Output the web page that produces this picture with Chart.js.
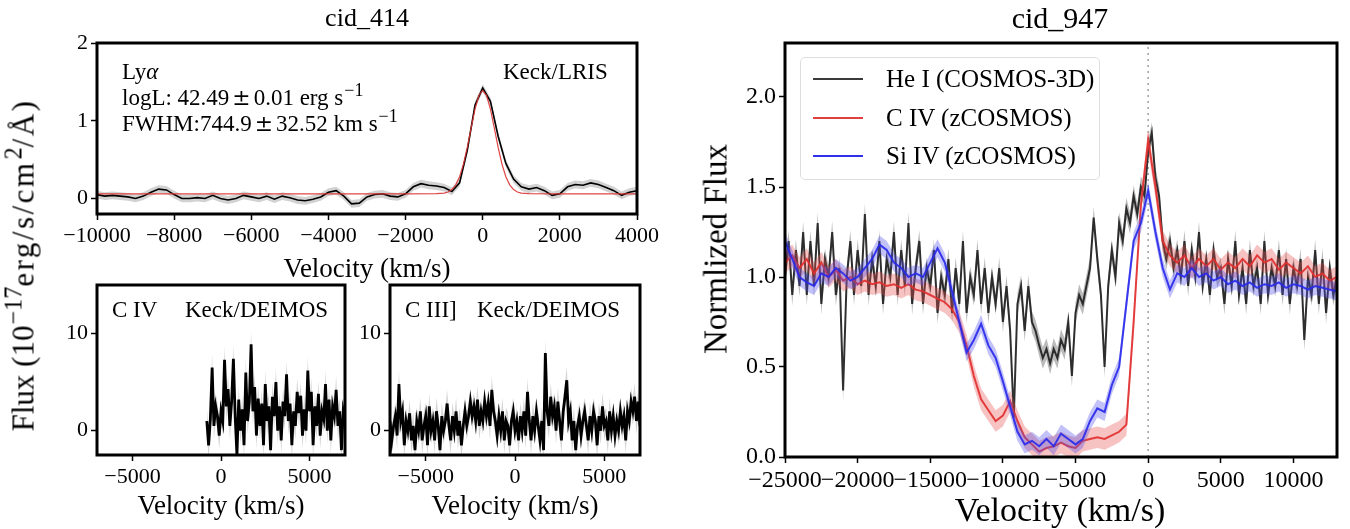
<!DOCTYPE html>
<html><head><meta charset="utf-8">
<script src="https://cdn.jsdelivr.net/npm/chart.js@4.4.1/dist/chart.umd.min.js"></script>
<style>
html,body{margin:0;padding:0;background:#fff;}
#wrap{position:relative;width:1350px;height:529px;overflow:hidden;font-family:'Liberation Serif','Times New Roman',serif;color:#000;}
canvas{position:absolute;left:0;top:0;}
.t{position:absolute;white-space:nowrap;line-height:1;}
.c{transform:translate(-50%,-50%);}
.r{transform:translate(-50%,-50%) rotate(-90deg);}
sup{font-size:78%;vertical-align:0;position:relative;top:-0.5em;margin-left:1px;}
.pm{font-family:'DejaVu Serif',serif;font-size:95%;margin:0 3px;}
.leg{position:absolute;left:800px;top:57px;width:300px;height:123px;border:1px solid #ddd;border-radius:5px;box-sizing:border-box;background:rgba(255,255,255,0.8);}
.ll{position:absolute;left:12px;width:50px;height:0;border-top:2.5px solid;}
.lt{position:absolute;left:85px;font-size:25px;line-height:1;white-space:nowrap;}
.m{letter-spacing:2.5px;}
</style></head>
<body><div id="wrap">
<canvas id="c1" width="1350" height="529"></canvas>
<canvas id="c2" width="1350" height="529"></canvas>
<canvas id="c3" width="1350" height="529"></canvas>
<canvas id="c4" width="1350" height="529"></canvas>

<div class="t c" style="left:367px;top:18px;font-size:26px;">cid_414</div>
<div class="t c" style="left:1060px;top:18px;font-size:30px;">cid_947</div>

<div class="t" style="left:122px;top:60px;font-size:23px;">Ly<i>α</i></div>
<div class="t" style="left:122px;top:86px;font-size:23px;">logL: 42.49<span class="pm">±</span>0.01 erg s<sup>−1</sup></div>
<div class="t" style="left:122px;top:112px;font-size:23px;">FWHM:744.9<span class="pm">±</span>32.52 km s<sup>−1</sup></div>
<div class="t" style="left:503px;top:60px;font-size:23px;">Keck/LRIS</div>
<div class="t c" style="left:367px;top:268px;font-size:27px;">Velocity (km/s)</div>

<div class="t" style="left:112px;top:298px;font-size:23px;">C IV</div>
<div class="t" style="left:185px;top:298px;font-size:23px;">Keck/DEIMOS</div>
<div class="t" style="left:405px;top:298px;font-size:23px;">C III]</div>
<div class="t" style="left:477px;top:298px;font-size:23px;">Keck/DEIMOS</div>
<div class="t c" style="left:221px;top:505px;font-size:27px;">Velocity (km/s)</div>
<div class="t c" style="left:515px;top:505px;font-size:27px;">Velocity (km/s)</div>

<div class="t r" style="left:23px;top:265px;font-size:31px;">Flux (10<sup>−17</sup><span class="m">erg/s/cm</span><sup>2</sup><span class="m">/Å)</span></div>
<div class="t r" style="left:716px;top:249px;font-size:33px;">Normlized Flux</div>
<div class="t c" style="left:1060px;top:510px;font-size:34px;">Velocity (km/s)</div>

<div class="leg">
  <div class="ll" style="top:20px;border-color:#3a3a3a;"></div><div class="lt" style="top:8px;">He I (COSMOS-3D)</div>
  <div class="ll" style="top:59px;border-color:#e04040;"></div><div class="lt" style="top:47px;">C IV (zCOSMOS)</div>
  <div class="ll" style="top:97px;border-color:#3030e8;"></div><div class="lt" style="top:85px;">Si IV (zCOSMOS)</div>
</div>
</div>
<script>
// ---------- Panel 1: Ly-alpha (Keck/LRIS) ----------
const lyaV = [-10000,-9800,-9600,-9400,-9200,-9000,-8800,-8600,-8400,-8200,-8000,-7800,-7600,-7400,-7200,-7000,-6800,-6600,-6400,-6200,-6000,-5800,-5600,-5400,-5200,-5000,-4800,-4600,-4400,-4200,-4000,-3800,-3600,-3400,-3200,-3000,-2800,-2600,-2400,-2200,-2000,-1800,-1600,-1400,-1200,-1000,-800,-600,-400,-200,0,200,400,600,800,1000,1200,1400,1600,1800,2000,2200,2400,2600,2800,3000,3200,3400,3600,3800,4000];
const lyaFlux = [0.05,0.03,0.04,0.03,0.02,0.00,0.03,0.08,0.12,0.11,0.05,0.00,0.00,0.01,0.00,0.04,0.00,-0.02,0.00,0.04,0.02,0.00,0.03,-0.01,0.03,0.01,-0.02,-0.03,-0.01,0.02,0.08,0.10,0.03,-0.07,-0.06,0.02,0.05,0.06,0.03,0.02,0.06,0.15,0.19,0.17,0.16,0.14,0.09,0.20,0.62,1.20,1.42,1.25,0.80,0.45,0.25,0.15,0.12,0.14,0.10,0.04,0.06,0.15,0.18,0.17,0.20,0.18,0.14,0.10,0.04,0.08,0.10];
const lyaErr = 0.05;
const lyaFitV = [-10000,-2000,-1200,-1000,-900,-800,-700,-600,-500,-400,-300,-200,-100,0,100,200,300,400,500,600,700,800,900,1000,1200,2000,4000];
const lyaFitF = [0.06,0.06,0.061,0.069,0.083,0.114,0.175,0.28,0.44,0.657,0.908,1.149,1.325,1.39,1.325,1.149,0.908,0.657,0.44,0.28,0.175,0.114,0.083,0.069,0.061,0.06,0.06];
const lyaXTicks = [-10000,-8000,-6000,-4000,-2000,0,2000,4000];
const lyaYTicks = [0,1,2];

// ---------- Panel 2: C IV (Keck/DEIMOS) ----------
const civV = [-800,-700,-600,-500,-400,-300,-200,-100,0,100,
200,300,400,500,600,700,800,900,1000,1100,
1200,1300,1400,1500,1600,1700,1800,1900,2000,2100,
2200,2300,2400,2500,2600,2700,2800,2900,3000,3100,
3200,3300,3400,3500,3600,3700,3800,3900,4000,4100,
4200,4300,4400,4500,4600,4700,4800,4900,5000,5100,
5200,5300,5400,5500,5600,5700,5800,5900,6000,6100,
6200,6300,6400,6500,6600,6700,6800,6900,7000];
const civFlux = [1.0,-1.5,1.2,6.5,0.5,2.5,1.5,-0.5,2.0,1.0,
7.3,2.5,4.3,0.5,3.0,7.4,1.5,-2.5,3.2,0.0,
2.2,-1.5,6.0,1.0,3.0,8.9,2.0,4.5,-0.5,3.3,
0.5,2.8,-1.5,4.8,1.0,2.5,-2.0,3.5,1.5,5.0,
0.0,2.5,-1.0,3.0,1.5,5.8,1.0,2.8,-1.5,2.0,
0.5,4.0,1.8,3.6,-0.5,2.2,0.0,6.2,2.0,4.0,
-1.5,2.5,0.5,3.8,-0.5,2.0,1.2,4.8,0.0,3.2,
-1.0,2.5,1.5,4.2,0.5,2.0,-2.0,2.0,1.0];
const civErr = 1.4;

// ---------- Panel 3: C III] (Keck/DEIMOS) ----------
const ciiiV = [-7000,-6900,-6800,-6700,-6600,-6500,-6400,-6300,-6200,-6100,
-6000,-5900,-5800,-5700,-5600,-5500,-5400,-5300,-5200,-5100,
-5000,-4900,-4800,-4700,-4600,-4500,-4400,-4300,-4200,-4100,
-4000,-3900,-3800,-3700,-3600,-3500,-3400,-3300,-3200,-3100,
-3000,-2900,-2800,-2700,-2600,-2500,-2400,-2300,-2200,-2100,
-2000,-1900,-1800,-1700,-1600,-1500,-1400,-1300,-1200,-1100,
-1000,-900,-800,-700,-600,-500,-400,-300,-200,-100,
0,100,200,300,400,500,600,700,800,900,
1000,1100,1200,1300,1400,1500,1600,1700,1800,1900,
2000,2100,2200,2300,2400,2500,2600,2700,2800,2900,
3000,3100,3200,3300,3400,3500,3600,3700,3800,3900,
4000,4100,4200,4300,4400,4500,4600,4700,4800,4900,
5000,5100,5200,5300,5400,5500,5600,5700,5800,5900,
6000,6100,6200,6300,6400,6500,6600,6700,6800,6900,
7000];
const ciiiFlux = [1.0,-1.0,0.5,1.5,-0.5,4.8,1.0,2.0,-1.5,1.0,
0.0,1.8,-1.0,0.5,-2.0,1.0,0.0,2.0,-1.0,0.5,
1.5,-1.5,2.5,0.0,1.0,-1.0,2.0,0.5,-2.0,1.5,
0.0,1.0,2.8,0.5,-1.0,1.5,0.0,2.0,-0.5,1.0,
-1.5,0.5,2.0,0.5,1.5,3.0,1.5,2.5,1.0,3.2,
0.5,2.0,1.0,3.0,1.5,2.8,0.5,4.2,2.0,1.0,
-0.5,1.5,0.0,2.0,-1.0,1.0,0.5,-1.5,1.0,2.0,
0.0,1.0,-1.0,1.5,0.0,2.0,-0.5,4.0,1.0,-1.0,
1.5,0.0,2.0,0.5,-1.0,1.0,-2.0,8.0,2.0,0.5,
3.5,1.5,2.5,0.0,3.0,1.0,-1.0,2.0,3.5,5.2,
1.0,2.0,-1.0,1.0,-2.0,0.5,1.5,-0.5,1.0,2.0,
0.5,-1.0,1.5,0.0,2.0,1.0,-1.5,1.5,0.0,2.5,
0.5,1.0,-1.0,2.0,0.0,1.5,-0.5,1.0,0.0,2.0,
0.5,1.5,-1.0,2.0,1.0,3.0,2.0,3.5,1.0,3.0,
0.5];
const ciiiErr = 1.4;
const deimosXTicks = [-5000,0,5000];
const deimosYTicks = [0,10];

// ---------- Panel 4: cid_947 normalized profiles ----------
const heiV = [-25000,-24750,-24500,-24250,-24000,-23750,-23500,-23250,-23000,-22750,
-22500,-22250,-22000,-21750,-21500,-21250,-21000,-20750,-20500,-20250,
-20000,-19750,-19500,-19250,-19000,-18750,-18500,-18250,-18000,-17750,
-17500,-17250,-17000,-16750,-16500,-16250,-16000,-15750,-15500,-15250,
-15000,-14750,-14500,-14250,-14000,-13750,-13500,-13250,-13000,-12750,
-12500,-12250,-12000,-11750,-11500,-11250,-11000,-10750,-10500,-10250,
-10000,-9750,-9500,-9250,-9000,-8750,-8500,-8250,-8000,-7750,
-7500,-7250,-7000,-6750,-6500,-6250,-6000,-5750,-5500,-5250,
-5000,-4750,-4500,-4250,-4000,-3750,-3500,-3250,-3000,-2750,
-2500,-2250,-2000,-1750,-1500,-1250,-1000,-750,-500,-250,
0,250,500,750,1000,1250,1500,1750,2000,2250,
2500,2750,3000,3250,3500,3750,4000,4250,4500,4750,
5000,5250,5500,5750,6000,6250,6500,6750,7000,7250,
7500,7750,8000,8250,8500,8750,9000,9250,9500,9750,
10000,10250,10500,10750,11000,11250,11500,11750,12000,12250,
12500,12750,13000];
const heiFlux = [1.0,1.2,0.9,1.15,0.95,1.25,0.9,1.2,0.95,1.3,
0.85,1.1,1.0,1.25,0.9,1.05,0.37,1.0,1.2,0.9,
1.15,0.95,1.35,0.9,1.1,0.95,1.2,0.85,1.1,1.0,
1.25,0.9,1.15,0.95,1.3,0.85,1.05,1.2,0.85,1.05,
0.95,1.15,0.8,1.0,0.9,1.1,0.8,1.05,0.85,1.2,
0.8,1.0,0.9,1.15,0.85,1.05,0.8,1.0,0.85,1.05,
0.75,0.95,0.7,0.22,0.85,0.95,0.7,0.95,0.75,0.7,
0.62,0.55,0.6,0.52,0.6,0.55,0.65,0.6,0.75,0.45,
0.8,0.9,0.85,0.95,1.05,1.33,1.1,0.9,0.5,0.95,
1.15,1.0,1.3,1.2,1.38,1.3,1.45,1.35,1.5,1.45,
1.7,1.8,1.55,1.45,1.2,1.1,1.2,1.05,1.15,1.0,
1.2,0.95,1.15,1.0,1.25,0.95,1.1,0.9,1.15,1.0,
1.05,0.85,1.1,0.95,1.2,0.9,1.05,0.85,1.15,0.95,
1.05,0.85,1.2,0.9,1.05,0.95,1.15,0.9,1.1,0.85,
1.05,0.95,1.1,0.65,1.0,0.9,1.15,0.85,1.1,0.8,
1.05,0.9,1.0];
const heiErr = 0.06;
const zcV = [-25000,-24500,-24000,-23500,-23000,-22500,-22000,-21500,-21000,-20500,
-20000,-19500,-19000,-18500,-18000,-17500,-17000,-16500,-16000,-15500,
-15000,-14500,-14000,-13500,-13000,-12500,-12000,-11500,-11000,-10500,
-10000,-9500,-9000,-8500,-8000,-7500,-7000,-6500,-6000,-5500,
-5000,-4500,-4000,-3500,-3000,-2500,-2000,-1500,-1000,-500,
0,500,1000,1500,2000,2500,3000,3500,4000,4500,
5000,5500,6000,6500,7000,7500,8000,8500,9000,9500,
10000,10500,11000,11500,12000,12500,13000];
const civNorm = [1.08,1.12,1.05,1.1,1.02,1.08,1.0,1.04,0.98,1.0,
0.96,0.98,0.96,0.97,0.95,0.96,0.94,0.96,0.93,0.92,
0.9,0.88,0.86,0.82,0.75,0.62,0.45,0.32,0.26,0.2,
0.23,0.31,0.2,0.11,0.07,0.03,0.05,0.06,0.08,0.06,
0.05,0.09,0.1,0.11,0.1,0.12,0.14,0.18,0.75,1.4,
1.76,1.5,1.2,1.12,1.08,1.12,1.05,1.1,1.06,1.1,
1.04,1.08,1.05,1.1,1.06,1.12,1.08,1.1,1.04,1.08,
1.05,1.02,1.06,1.0,1.02,0.98,1.0];
const civNormErr = 0.06;
const sivNorm = [1.2,1.1,1.0,0.97,0.95,1.02,1.0,1.05,1.02,0.98,
1.0,1.05,1.1,1.18,1.15,1.08,1.05,1.0,1.02,1.0,
1.08,1.16,1.08,0.92,0.75,0.58,0.65,0.74,0.62,0.55,
0.42,0.28,0.14,0.07,0.09,0.06,0.1,0.06,0.13,0.1,
0.07,0.1,0.2,0.27,0.25,0.4,0.5,0.85,1.2,1.3,
1.48,1.25,1.05,0.93,1.02,1.0,1.05,1.0,1.02,0.98,
1.0,0.96,0.98,0.95,0.97,0.94,0.96,0.95,0.97,0.94,
0.96,0.95,0.93,0.95,0.94,0.93,0.92];
const sivNormErr = 0.05;
const rXTicks = [-25000,-20000,-15000,-10000,-5000,0,5000,10000];
const rYTicks = [0.0,0.5,1.0,1.5,2.0];
const zeroLineV = [0,0];
const zeroLineY = [0,2.3];

// ---------- helpers ----------
const SERIF = "'Liberation Serif','Times New Roman',serif";
const pts = (xs, ys, off=0, sign=0) => xs.map((x,i)=>({x, y: ys[i] + sign*off}));
const minus = v => (v < 0 ? '\u2212' + Math.abs(v) : String(v));

const framePlugin = {
  id: 'frame',
  afterDatasetsDraw(chart) {
    const {ctx, chartArea: a} = chart;
    ctx.save();
    ctx.strokeStyle = '#000';
    ctx.lineWidth = 3;
    ctx.strokeRect(a.left, a.top, a.right - a.left, a.bottom - a.top);
    ctx.restore();
  }
};

function band(xs, ys, err, color, order) {
  return [
    {data: pts(xs, ys, err, 1), borderWidth: 0, pointRadius: 0, fill: false, order, borderColor: 'transparent'},
    {data: pts(xs, ys, err, -1), borderWidth: 0, pointRadius: 0, fill: '-1', backgroundColor: color, order, borderColor: 'transparent'}
  ];
}
function line(xs, ys, color, width, order, extra={}) {
  return Object.assign({data: pts(xs, ys), borderColor: color, borderWidth: width, pointRadius: 0, fill: false, tension: 0, order}, extra);
}

function makeChart(id, area, xr, yr, xticks, yticks, fmtX, fmtY, datasets, fontSize) {
  const yW = 70, xH = 40;
  const axisCommon = (ticks, fmt) => ({
    type: 'linear',
    grid: {display: true, drawOnChartArea: false, drawTicks: true, tickLength: 6, tickWidth: 1.5, tickColor: '#000'},
    border: {display: false},
    afterBuildTicks: s => { s.ticks = ticks.map(v => ({value: v})); },
    ticks: {autoSkip: false, maxRotation: 0, minRotation: 0, color: '#000', padding: 3,
            font: {family: SERIF, size: fontSize}, callback: v => fmt(v)}
  });
  const x = Object.assign(axisCommon(xticks, fmtX), {min: xr[0], max: xr[1], position: 'bottom',
    afterFit: s => { s.height = xH; s.paddingLeft = 0; s.paddingRight = 0; }});
  const y = Object.assign(axisCommon(yticks, fmtY), {min: yr[0], max: yr[1], position: 'left',
    afterFit: s => { s.width = yW; s.paddingTop = 0; s.paddingBottom = 0; }});
  return new Chart(document.getElementById(id), {
    type: 'line',
    data: {datasets},
    options: {
      responsive: false, animation: false, events: [],
      layout: {padding: {left: area.l - yW, right: 1350 - area.r, top: area.t, bottom: 529 - area.b - xH}},
      plugins: {legend: {display: false}, tooltip: {enabled: false}},
      scales: {x, y}
    },
    plugins: [framePlugin]
  });
}

// Panel 1
makeChart('c1', {l: 97, r: 637, t: 43, b: 214}, [-10000, 4000], [-0.2, 2.0], lyaXTicks, lyaYTicks, minus, minus, [
  ...band(lyaV, lyaFlux, lyaErr, 'rgba(180,180,180,0.6)', 3),
  line(lyaV, lyaFlux, '#000', 1.6, 2),
  line(lyaFitV, lyaFitF, 'rgba(220,50,50,0.9)', 1.2, 1)
], 22);

// Panel 2
makeChart('c2', {l: 97, r: 345, t: 285, b: 455}, [-7000, 7000], [-2.5, 15], deimosXTicks, deimosYTicks, minus, minus, [
  ...band(civV, civFlux, civErr, 'rgba(170,170,170,0.5)', 2),
  line(civV, civFlux, '#000', 2.8, 1)
], 22);

// Panel 3
makeChart('c3', {l: 390, r: 640, t: 285, b: 455}, [-7000, 7000], [-2.5, 15], deimosXTicks, deimosYTicks, minus, minus, [
  ...band(ciiiV, ciiiFlux, ciiiErr, 'rgba(170,170,170,0.5)', 2),
  line(ciiiV, ciiiFlux, '#000', 2.8, 1)
], 22);

// Panel 4
makeChart('c4', {l: 785, r: 1337, t: 43, b: 457}, [-25000, 13000], [0, 2.3], rXTicks, rYTicks, minus, v => v.toFixed(1), [
  line(zeroLineV, zeroLineY, 'rgba(150,150,150,0.9)', 1.5, 10, {borderDash: [2, 4]}),
  ...band(heiV, heiFlux, heiErr, 'rgba(60,60,60,0.35)', 7),
  line(heiV, heiFlux, 'rgba(25,25,25,0.88)', 2, 6),
  ...band(zcV, civNorm, civNormErr, 'rgba(230,80,80,0.35)', 5),
  line(zcV, civNorm, 'rgba(225,45,45,0.9)', 2, 4),
  ...band(zcV, sivNorm, sivNormErr, 'rgba(80,80,235,0.35)', 3),
  line(zcV, sivNorm, 'rgba(40,40,235,0.9)', 2, 2)
], 24);
</script>
</body></html>
